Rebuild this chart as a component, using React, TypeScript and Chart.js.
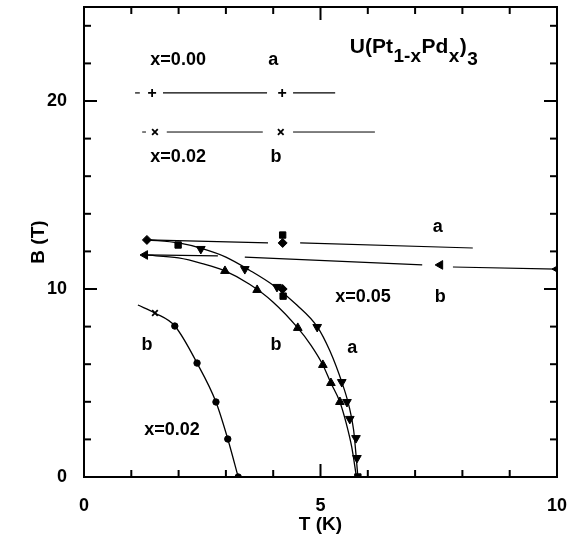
import { useEffect, useRef } from "react";
import { Chart, registerables } from "chart.js";

Chart.register(...registerables);

// ---------- axes ----------
const X_TICK_LABELS = [0, 5, 10];
const Y_TICK_LABELS = [0, 10, 20];
const X_MINOR_TICKS = [1, 2, 3, 4, 6, 7, 8, 9];
const Y_MINOR_TICKS = [2, 4, 6, 8, 12, 14, 16, 18, 22, 24];

// ---------- x = 0.00, branch a (top) ----------
const X000_MARK_T = [1.44, 4.19];
const X000_MARK_B = [20.43, 20.43];
const X000_SEG_T = [[1.08, 1.18], [1.67, 3.87], [4.42, 5.31]];
const X000_SEG_B = [[20.43, 20.43], [20.43, 20.43], [20.43, 20.43]];

// ---------- x = 0.02, branch b (top) ----------
const X002_TOP_MARK_T = [1.5, 4.16];
const X002_TOP_MARK_B = [18.35, 18.35];
const X002_TOP_SEG_T = [[1.23, 1.31], [1.75, 3.78], [4.42, 6.15]];
const X002_TOP_SEG_B = [[18.35, 18.35], [18.35, 18.35], [18.35, 18.35]];

// ---------- x = 0.05, high-field lines ----------
const X005_A_LINE_SEG_T = [[1.33, 3.89], [4.57, 8.22]];
const X005_A_LINE_SEG_B = [[12.61, 12.45], [12.45, 12.18]];
const X005_B_LINE_SEG_T = [[1.29, 2.83], [3.4, 7.15], [7.8, 10.0]];
const X005_B_LINE_SEG_B = [[11.81, 11.76], [11.7, 11.28], [11.17, 11.06]];

// ---------- x = 0.05 markers ----------
const X005_DIAMOND_T = [1.33, 4.2, 4.2];
const X005_DIAMOND_B = [12.61, 12.45, 10.0];
const X005_SQUARE_T = [1.99, 4.2, 4.21, 5.79];
const X005_SQUARE_B = [12.34, 12.87, 9.62, 0];
const X005_DOWN_T = [2.47, 3.4, 4.08, 4.93, 5.45, 5.56, 5.62, 5.75, 5.77];
const X005_DOWN_B = [12.13, 11.06, 10.11, 7.98, 5.05, 3.99, 3.09, 2.07, 1.01];
const X005_UP_T = [2.98, 3.66, 4.52, 5.05, 5.22, 5.41];
const X005_UP_B = [10.96, 9.95, 7.93, 5.96, 5.0, 3.99];
const X005_LEFT_T = [1.29, 7.53, 10.0];
const X005_LEFT_B = [11.81, 11.28, 11.06];

// ---------- x = 0.05 phase-boundary curves ----------
const CURVE_A_T = [1.33, 2.0, 2.5, 3.0, 3.5, 4.0, 4.5, 4.93, 5.2, 5.45, 5.6, 5.7, 5.75, 5.79];
const CURVE_A_B = [12.62, 12.45, 12.15, 11.7, 11.0, 10.2, 9.15, 8.0, 6.7, 5.05, 3.8, 2.5, 1.2, 0];
const CURVE_B_T = [1.29, 2.0, 2.5, 2.98, 3.5, 4.0, 4.52, 4.8, 5.05, 5.22, 5.41, 5.55, 5.66, 5.76];
const CURVE_B_B = [11.81, 11.65, 11.35, 10.96, 10.25, 9.3, 7.93, 7.0, 5.96, 5.0, 3.99, 2.8, 1.6, 0];

// ---------- x = 0.02, branch b (low field) ----------
const X002_CROSS_T = [1.5];
const X002_CROSS_B = [8.72];
const X002_CIRCLE_T = [1.92, 2.39, 2.79, 3.04, 3.26];
const X002_CIRCLE_B = [8.03, 6.06, 3.99, 2.02, 0];
const X002_CURVE_T = [1.14, 1.5, 1.92, 2.39, 2.79, 3.04, 3.26];
const X002_CURVE_B = [9.15, 8.72, 8.03, 6.06, 3.99, 2.02, 0];

// ---------- annotations (data coordinates) ----------
const LABEL_TEXT = ["x=0.00", "a", "x=0.02", "b", "a", "x=0.05", "b", "b", "b", "a", "x=0.02"];
const LABEL_T = [1.99, 4.0, 1.99, 4.06, 7.48, 5.9, 7.53, 1.33, 4.06, 5.67, 1.86];
const LABEL_B = [22.18, 22.18, 17.02, 17.02, 13.3, 9.57, 9.57, 7.02, 7.02, 6.86, 2.5];

const FONT = "'Liberation Sans', Arial, Helvetica, sans-serif";

const zip = (t: number[], b: number[]) => t.map((v, i) => ({ x: v, y: b[i] }));

function markers(t: number[], b: number[], style: string, radius: number, rotation = 0) {
  return {
    type: "scatter" as const,
    data: zip(t, b),
    showLine: false,
    pointStyle: style,
    pointRadius: radius,
    pointRotation: rotation,
    pointBackgroundColor: "#000",
    pointBorderColor: "#000",
    pointBorderWidth: style === "cross" || style === "crossRot" ? 1.8 : 1,
  };
}

function segments(segT: number[][], segB: number[][], width = 1.2) {
  return segT.map((s, i) => ({
    type: "scatter" as const,
    data: zip(s, segB[i]),
    showLine: true,
    borderColor: "#000",
    borderWidth: width,
    pointRadius: 0,
  }));
}

function curve(t: number[], b: number[]) {
  return {
    type: "scatter" as const,
    data: zip(t, b),
    showLine: true,
    borderColor: "#000",
    borderWidth: 1.3,
    pointRadius: 0,
    cubicInterpolationMode: "monotone" as const,
  };
}

const framePlugin = {
  id: "frameTicks",
  afterDatasetsDraw(chart: any) {
    const { ctx, chartArea: a, scales } = chart;
    const xs = scales.x;
    const ys = scales.y;
    ctx.save();
    ctx.strokeStyle = "#000";
    ctx.lineWidth = 2;
    ctx.strokeRect(a.left, a.top, a.right - a.left, a.bottom - a.top);
    const tick = (x1: number, y1: number, x2: number, y2: number) => {
      ctx.beginPath();
      ctx.moveTo(x1, y1);
      ctx.lineTo(x2, y2);
      ctx.stroke();
    };
    const xTicks = [...X_TICK_LABELS.map((v) => [v, 13]), ...X_MINOR_TICKS.map((v) => [v, 7])];
    xTicks.forEach(([v, len]) => {
      const px = xs.getPixelForValue(v);
      tick(px, a.bottom, px, a.bottom - len);
      tick(px, a.top, px, a.top + len);
    });
    const yTicks = [...Y_TICK_LABELS.map((v) => [v, 13]), ...Y_MINOR_TICKS.map((v) => [v, 7])];
    yTicks.forEach(([v, len]) => {
      const py = ys.getPixelForValue(v);
      tick(a.left, py, a.left + len, py);
      tick(a.right, py, a.right - len, py);
    });
    ctx.restore();
  },
  afterDraw(chart: any) {
    const { ctx, scales } = chart;
    const xs = scales.x;
    const ys = scales.y;
    ctx.save();
    ctx.fillStyle = "#000";
    ctx.textAlign = "center";
    ctx.textBaseline = "middle";
    ctx.font = `bold 18px ${FONT}`;
    LABEL_TEXT.forEach((txt, i) => {
      ctx.fillText(txt, xs.getPixelForValue(LABEL_T[i]), ys.getPixelForValue(LABEL_B[i]));
    });
    // compound formula with subscripts
    const parts: [string, boolean, number][] = [
      ["U(Pt", false, 0],
      ["1-x", true, 9],
      ["Pd", false, 0],
      ["x", true, 9],
      [")", false, 0],
      ["3", true, 12],
    ];
    ctx.textAlign = "left";
    ctx.textBaseline = "alphabetic";
    let cx = xs.getPixelForValue(5.62);
    const base = ys.getPixelForValue(22.55);
    parts.forEach(([txt, sub, off]) => {
      ctx.font = sub ? `bold 19px ${FONT}` : `bold 21px ${FONT}`;
      ctx.fillText(txt, cx, base + off);
      cx += ctx.measureText(txt).width + 0.5;
    });
    ctx.restore();
  },
};

export default function App() {
  const ref = useRef<HTMLCanvasElement | null>(null);
  useEffect(() => {
    if (!ref.current) return;
    const datasets: any[] = [
      ...segments(X000_SEG_T, X000_SEG_B),
      markers(X000_MARK_T, X000_MARK_B, "cross", 4),
      ...segments(X002_TOP_SEG_T, X002_TOP_SEG_B, 1.0),
      markers(X002_TOP_MARK_T, X002_TOP_MARK_B, "crossRot", 4),
      ...segments(X005_A_LINE_SEG_T, X005_A_LINE_SEG_B),
      ...segments(X005_B_LINE_SEG_T, X005_B_LINE_SEG_B),
      curve(CURVE_A_T, CURVE_A_B),
      curve(CURVE_B_T, CURVE_B_B),
      curve(X002_CURVE_T, X002_CURVE_B),
      markers(X005_DIAMOND_T, X005_DIAMOND_B, "rectRot", 4.5),
      markers(X005_SQUARE_T, X005_SQUARE_B, "rect", 4.5),
      markers(X005_DOWN_T, X005_DOWN_B, "triangle", 5, 180),
      markers(X005_UP_T, X005_UP_B, "triangle", 5, 0),
      markers(X005_LEFT_T, X005_LEFT_B, "triangle", 5, -90),
      markers(X002_CROSS_T, X002_CROSS_B, "crossRot", 4),
      markers(X002_CIRCLE_T, X002_CIRCLE_B, "circle", 3.2),
    ];
    const chart = new Chart(ref.current, {
      type: "scatter",
      data: { datasets },
      options: {
        animation: false,
        responsive: false,
        events: [],
        layout: { padding: { top: 7, right: 13, left: 0, bottom: 0 } },
        plugins: { legend: { display: false }, tooltip: { enabled: false } },
        scales: {
          x: {
            type: "linear",
            min: 0,
            max: 10,
            afterBuildTicks: (s: any) => {
              s.ticks = X_TICK_LABELS.map((v) => ({ value: v }));
            },
            afterFit: (s: any) => {
              s.height = 63;
              s.paddingLeft = 0;
              s.paddingRight = 0;
              s.paddingTop = 0;
              s.paddingBottom = 0;
            },
            grid: { display: false },
            border: { display: false },
            ticks: {
              color: "#000",
              font: { family: FONT, size: 18, weight: "bold" },
              padding: 10,
              maxRotation: 0,
              autoSkip: false,
            },
            title: {
              display: true,
              text: "T (K)",
              color: "#000",
              font: { family: FONT, size: 19, weight: "bold" },
              padding: { top: 0, bottom: 4 },
            },
          },
          y: {
            type: "linear",
            min: 0,
            max: 25,
            afterBuildTicks: (s: any) => {
              s.ticks = Y_TICK_LABELS.map((v) => ({ value: v }));
            },
            afterFit: (s: any) => {
              s.width = 84;
              s.paddingLeft = 0;
              s.paddingRight = 0;
              s.paddingTop = 0;
              s.paddingBottom = 0;
            },
            grid: { display: false },
            border: { display: false },
            ticks: {
              color: "#000",
              font: { family: FONT, size: 18, weight: "bold" },
              padding: 9,
              autoSkip: false,
            },
            title: {
              display: true,
              text: "B (T)",
              color: "#000",
              font: { family: FONT, size: 19, weight: "bold" },
              padding: { top: 27, bottom: 0 },
            },
          },
        },
      },
      plugins: [framePlugin],
    });
    return () => chart.destroy();
  }, []);
  return (
    <div style={{ position: "fixed", left: 0, top: 0, width: 570, height: 540, background: "#fff" }}>
      <canvas ref={ref} width={570} height={540} style={{ display: "block" }} />
    </div>
  );
}
